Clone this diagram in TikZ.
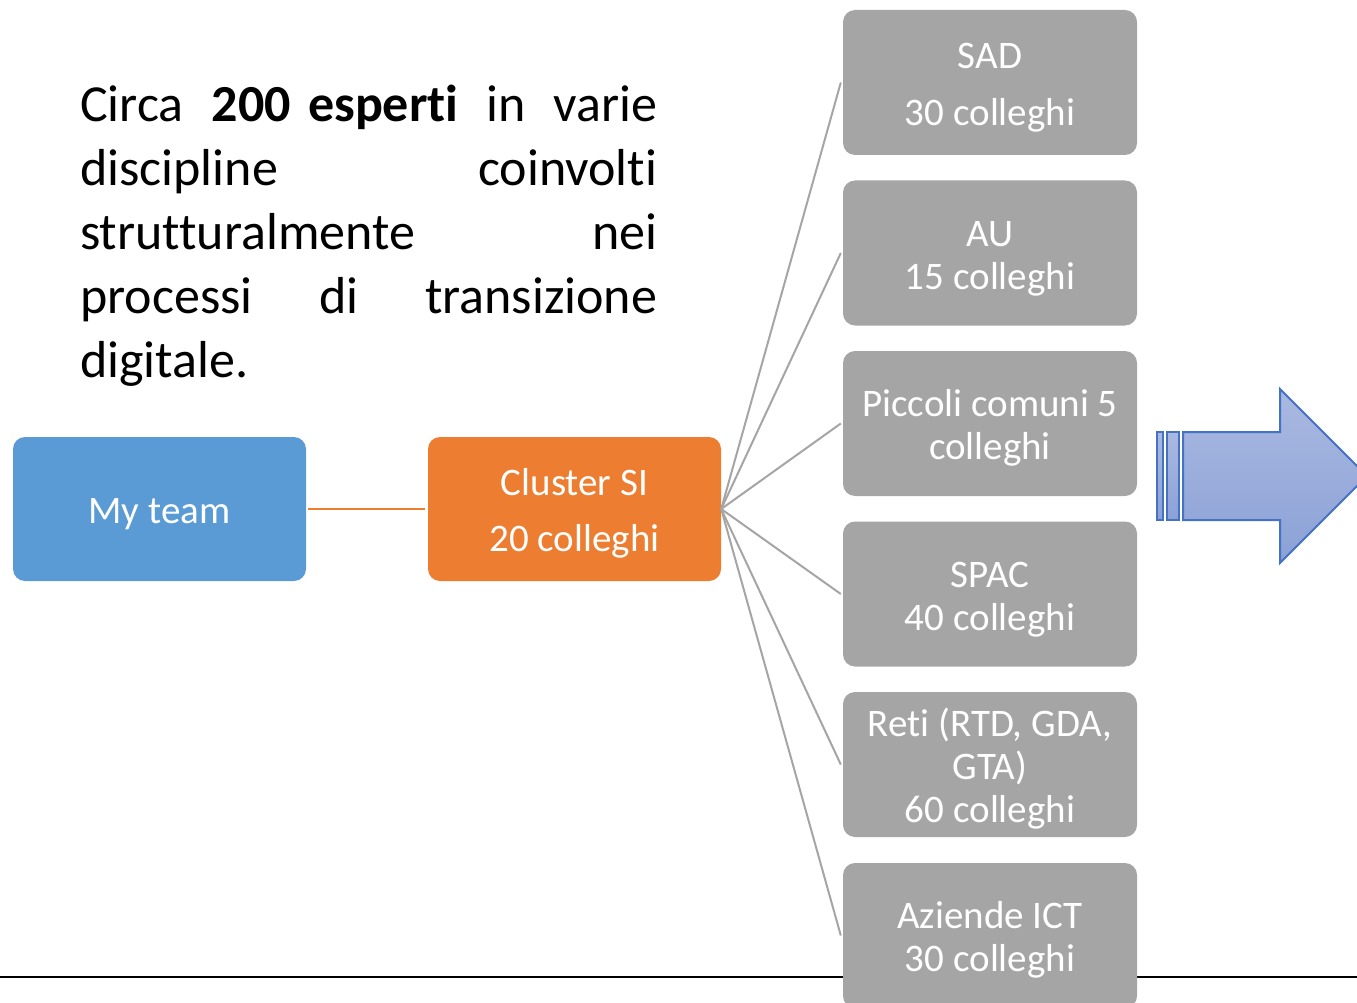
\documentclass[tikz,border=0pt]{standalone}
\usepackage{fontspec}
\setmainfont[Ligatures=NoCommon]{Carlito}
\definecolor{teamblue}{HTML}{5B9BD5}
\definecolor{clorange}{HTML}{ED7D31}
\definecolor{boxgray}{HTML}{A5A5A5}
\definecolor{arrline}{HTML}{4472C4}
\definecolor{arrtop}{HTML}{AAB9E1}
\definecolor{arrbot}{HTML}{8BA1D6}
\newcommand\boxtxt[1]{\raisebox{-6pt}[\height][\depth]{\begin{tabular}{@{}c@{}}#1\end{tabular}}}
\tikzset{
  box/.style={rectangle, rounded corners=12pt, minimum width=294pt, minimum height=145pt,
    inner sep=0pt, align=center, text=white, font=\fontsize{39}{43}\selectfont},
  graybox/.style={box, fill=boxgray},
  conn/.style={draw=boxgray, line width=2pt},
  arrowpart/.style={draw=arrline, line width=2pt, top color=arrtop, bottom color=arrbot}
}
\begin{document}
\begin{tikzpicture}[x=1pt,y=-1pt]
\useasboundingbox (0,0) rectangle (1357,1003);
\clip (0,0) rectangle (1357,1003);
% bottom rule
\coordinate (bl) at (0,977);
\coordinate (br) at (1357,977);
\draw[black, line width=2pt] (bl) -- (br);
% text
\node[anchor=base west, inner sep=0pt, text width=577pt, font=\fontsize{52}{64}\selectfont] (txt) at (80,122)
  {Circa\hfill\textbf{200 esperti}\hfill in\hfill varie\\
   discipline\hfill coinvolti\\
   strutturalmente\hfill nei\\
   processi\hfill di\hfill transizione\\
   digitale.};
% main boxes
\node[box, fill=teamblue, minimum width=293pt, minimum height=144pt] (team) at (159.5,509) {\boxtxt{My team}};
\node[box, fill=clorange, minimum width=293pt, minimum height=144pt] (cluster) at (574.5,509) {\boxtxt{Cluster SI\\[13pt]20 colleghi}};
% gray boxes
\node[graybox] (sad) at (990,82.5) {\boxtxt{SAD\\[14pt]30 colleghi}};
\node[graybox] (au) at (990,253) {\boxtxt{AU\\15 colleghi}};
\node[graybox] (pc) at (990,423.5) {\boxtxt{Piccoli comuni 5\\colleghi}};
\node[graybox] (spac) at (990,594) {\boxtxt{SPAC\\40 colleghi}};
\node[graybox] (reti) at (990,764.5) {\boxtxt{Reti (RTD, GDA,\\GTA)\\60 colleghi}};
\node[graybox] (az) at (990,935.5) {\boxtxt{Aziende ICT\\30 colleghi}};
% connectors
\draw[draw=clorange, line width=2.5pt] (team.east) ++(2,0) -- ([xshift=-3pt]cluster.west);
\foreach \n in {sad,au,pc,spac,reti,az}{
  \draw[conn] (cluster.east) -- ([xshift=-2pt]\n.west);
}
% arrow
\path[arrowpart] (1157,432) rectangle (1163,520);
\path[arrowpart] (1167,432) rectangle (1179,520);
\path[arrowpart] (1183,432) -- (1280,432) -- (1280,389) -- (1367,476) -- (1280,563) -- (1280,520) -- (1183,520) -- cycle;
\end{tikzpicture}
\end{document}
